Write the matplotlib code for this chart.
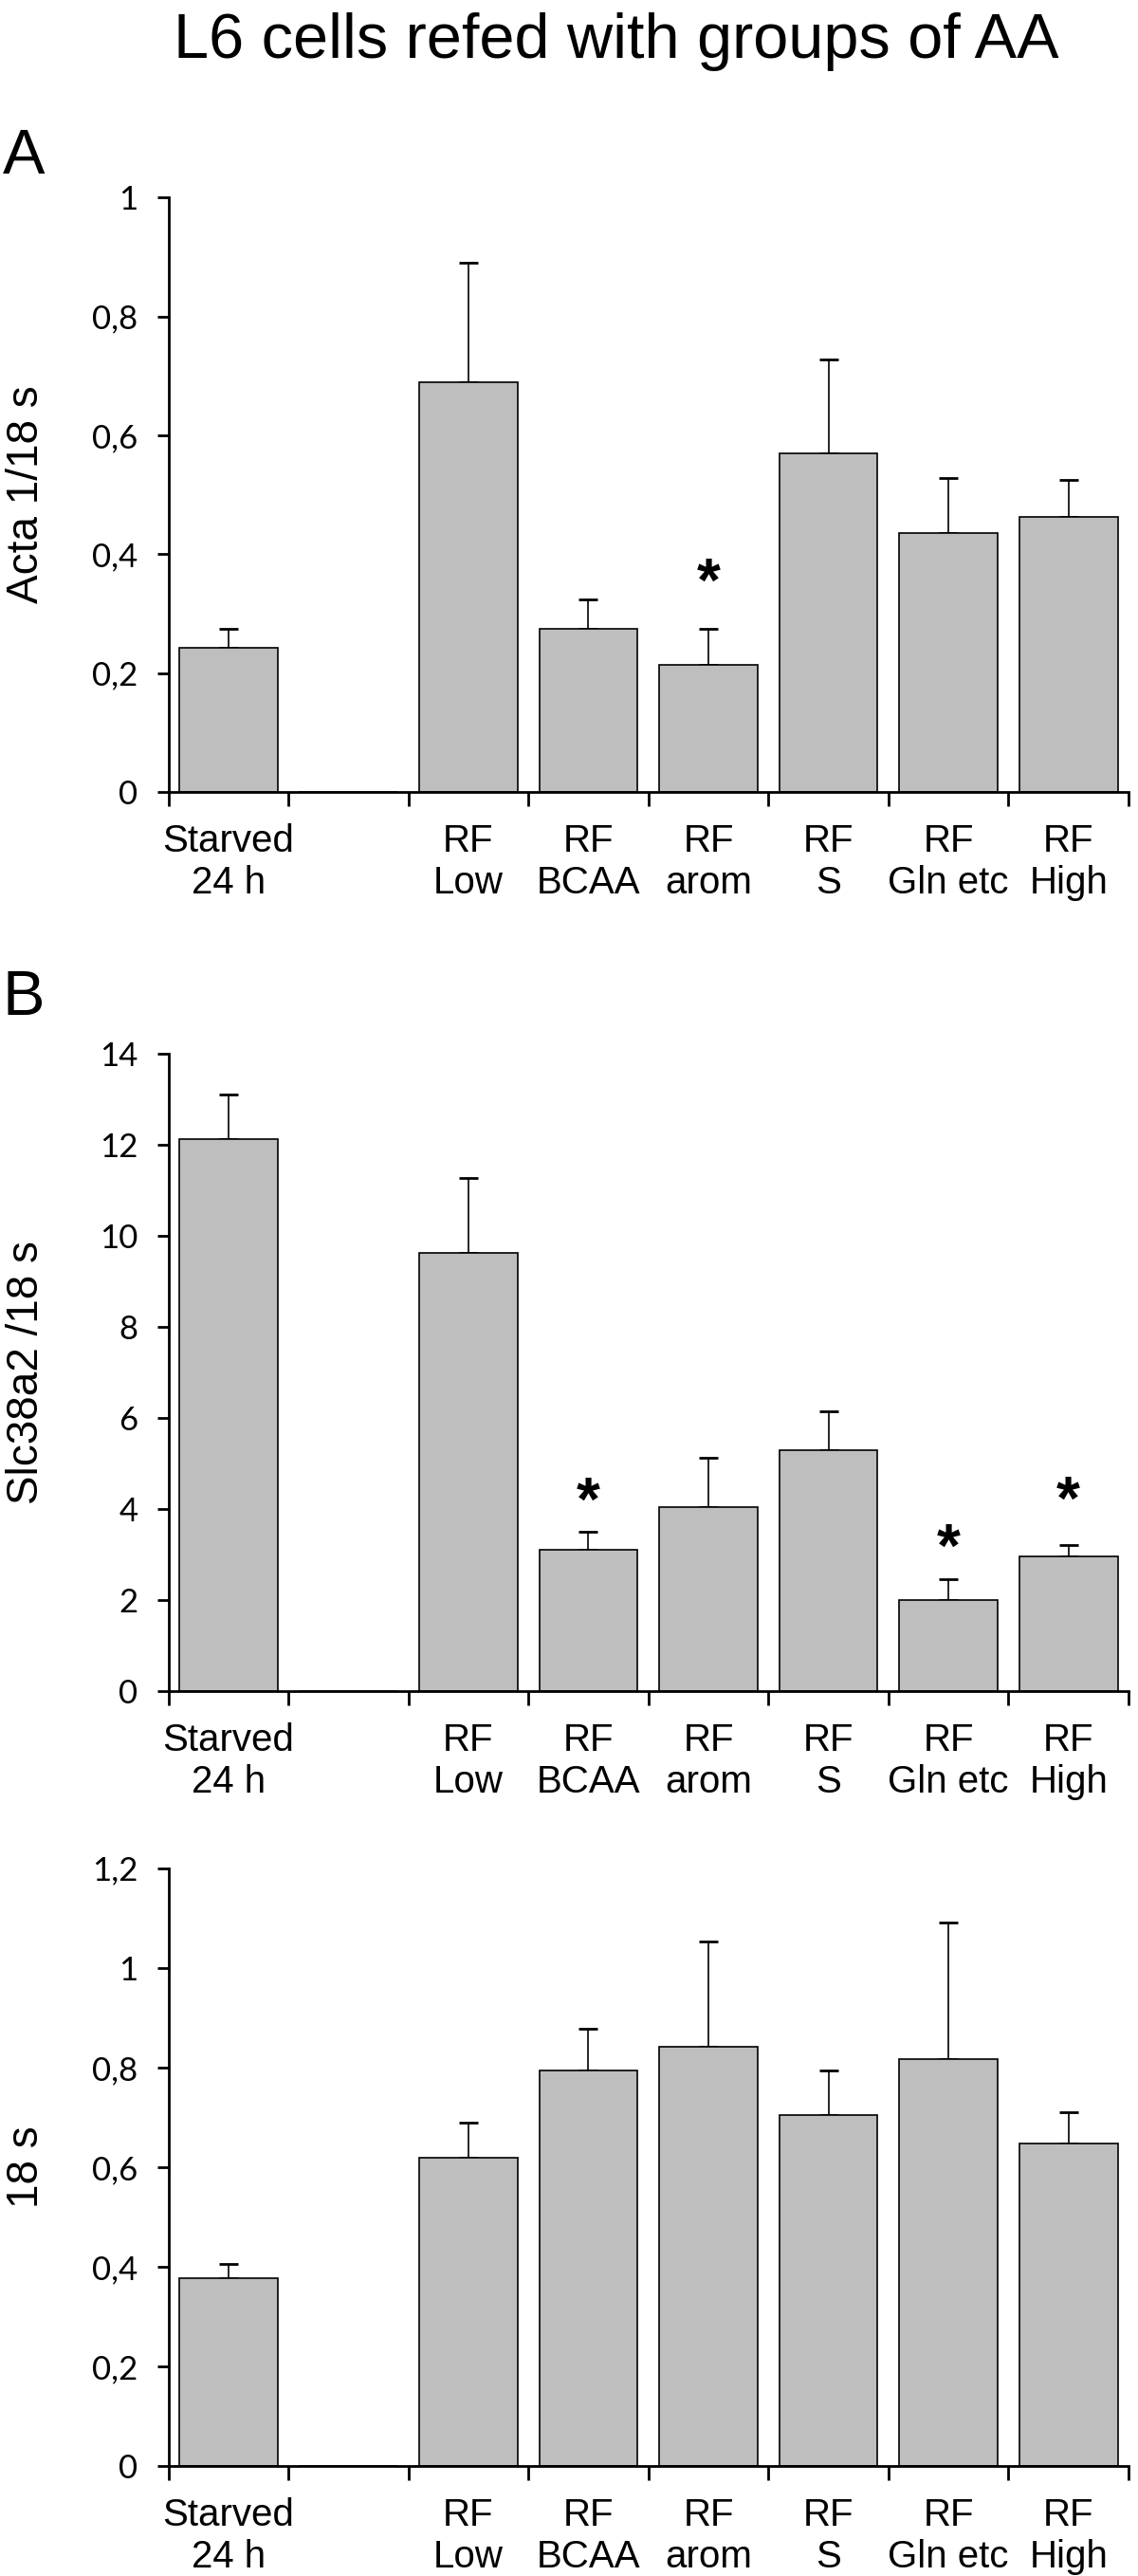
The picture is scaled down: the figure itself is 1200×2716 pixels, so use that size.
import numpy as np
import matplotlib
matplotlib.use("Agg")
import matplotlib.pyplot as plt
from matplotlib.ticker import FuncFormatter

# categories (second slot is an empty gap in the original)
categories = ["Starved\n24 h", "", "RF\nLow", "RF\nBCAA", "RF\narom", "RF\nS", "RF\nGln etc", "RF\nHigh"]

acta_mean = [0.242, np.nan, 0.689, 0.274, 0.214, 0.569, 0.436, 0.463]
acta_err = [0.032, 0, 0.201, 0.050, 0.060, 0.158, 0.092, 0.062]
acta_stars = [4]
acta_star_y = [0.371]

slc_mean = [12.12, np.nan, 9.61, 3.11, 4.03, 5.29, 2.00, 2.96]
slc_err = [0.98, 0, 1.66, 0.39, 1.10, 0.85, 0.46, 0.25]
slc_stars = [3, 6, 7]
slc_star_y = [4.39, 3.37, 4.41]

s18_mean = [0.377, np.nan, 0.618, 0.794, 0.842, 0.704, 0.816, 0.648]
s18_err = [0.028, 0, 0.071, 0.083, 0.211, 0.090, 0.275, 0.063]

BAR_COLOR = "#bebebe"
TICK_FONT = "Lato"
LABEL_FONT = "Liberation Sans"


def comma_fmt(v, pos):
    s = "%g" % round(v, 2)
    return s.replace(".", ",")


def draw_panel(ax, means, errs, ymax, ystep, ylabel, stars=None, star_y=None):
    x = np.arange(len(categories))
    m = np.array(means, dtype=float)
    lower = np.zeros(len(errs))
    ax.bar(x, np.nan_to_num(m), width=0.82, color=BAR_COLOR, edgecolor="black",
           linewidth=1.2, zorder=2)
    ok = ~np.isnan(m)
    ax.errorbar(x[ok], m[ok], yerr=[lower[ok], np.array(errs)[ok]], fmt="none",
                ecolor="black", elinewidth=1.2, capsize=7.5, capthick=2, zorder=1)

    ax.set_xlim(-0.5, len(categories) - 0.5)
    ax.set_ylim(0, ymax)
    ax.spines["top"].set_visible(False)
    ax.spines["right"].set_visible(False)
    ax.spines["left"].set_linewidth(2)
    ax.spines["bottom"].set_linewidth(2)

    # excel style: tick marks between categories, labels centred
    ax.set_xticks(np.arange(-0.5, len(categories), 1.0))
    ax.set_xticklabels([])
    ax.set_xticks(x, minor=True)
    ax.set_xticklabels(categories, minor=True, fontsize=29, family=LABEL_FONT,
                       linespacing=1.2)
    ax.tick_params(axis="x", which="major", direction="out", length=11, width=2)
    ax.tick_params(axis="x", which="minor", length=0, pad=24)

    ax.set_yticks(np.arange(0, ymax + ystep / 2, ystep))
    ax.yaxis.set_major_formatter(FuncFormatter(comma_fmt))
    ax.tick_params(axis="y", direction="out", length=9, width=2, pad=14)
    for lab in ax.get_yticklabels():
        lab.set_fontsize(25)
        lab.set_family(TICK_FONT)

    ax.set_ylabel(ylabel, fontsize=33, family=LABEL_FONT, va="center")
    ax.yaxis.set_label_coords(-0.1477, 0.5)

    if stars:
        for i, yy in zip(stars, star_y):
            ax.annotate("*", xy=(i, yy), xytext=(0, -10), textcoords="offset points",
                        ha="center", va="center", fontsize=46, fontweight="bold",
                        family=LABEL_FONT)


fig = plt.figure(figsize=(12, 27.16), dpi=100)
left = 177.5 / 1200
width = 1012.5 / 1200
H = 2716.0

axA = fig.add_axes([left, 1 - 835 / H, width, (835 - 208.3) / H])
axB = fig.add_axes([left, 1 - 1783 / H, width, (1783 - 1110.5) / H])
axC = fig.add_axes([left, 1 - 2600 / H, width, (2600 - 1969.7) / H])

draw_panel(axA, acta_mean, acta_err, 1.0, 0.2, "Acta 1/18 s", acta_stars, acta_star_y)
draw_panel(axB, slc_mean, slc_err, 14, 2, "Slc38a2 /18 s", slc_stars, slc_star_y)
draw_panel(axC, s18_mean, s18_err, 1.2, 0.2, "18 s")

fig.text(650 / 1200, 1 - 61 / H, "L6 cells refed with groups of AA", ha="center",
         va="baseline", fontsize=48, family=LABEL_FONT)
fig.text(3 / 1200, 1 - 183 / H, "A", ha="left", va="baseline", fontsize=48, family=LABEL_FONT)
fig.text(3 / 1200, 1 - 1070 / H, "B", ha="left", va="baseline", fontsize=48, family=LABEL_FONT)

fig.savefig("out.png", dpi=100, facecolor="white")
